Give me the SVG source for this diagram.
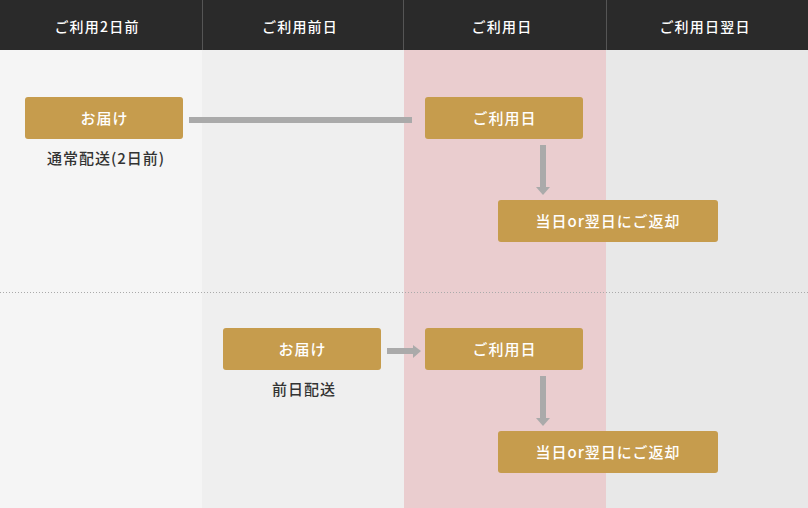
<svg xmlns="http://www.w3.org/2000/svg" width="808" height="508" viewBox="0 0 808 508">
<style>
.hd{font-family:"Noto Sans CJK JP","Noto Sans",sans-serif;font-size:14px;font-weight:500;fill:#ffffff;text-anchor:middle;letter-spacing:1.2px}
.bx{fill:#c69c4d}
.bt{font-family:"Noto Sans CJK JP","Noto Sans",sans-serif;font-size:15px;font-weight:500;fill:#ffffff;text-anchor:middle;letter-spacing:1px}
.lb{font-family:"Noto Sans CJK JP","Noto Sans",sans-serif;font-size:15px;font-weight:500;fill:#333333;text-anchor:middle;letter-spacing:1px}
.ln{stroke:#aaaaaa;stroke-width:6;fill:none}
.ah{fill:#aaaaaa}
</style>
<rect x="0" y="0" width="808" height="508" fill="#f5f5f5"/>
<rect x="202" y="50" width="202" height="458" fill="#efefef"/>
<rect x="404" y="50" width="202" height="458" fill="#eacdcf"/>
<rect x="606" y="50" width="202" height="458" fill="#e8e8e8"/>
<rect x="0" y="0" width="808" height="50" fill="#2a2a2a"/>
<g stroke="#555555" stroke-width="1">
<line x1="202.5" y1="0" x2="202.5" y2="50"/>
<line x1="403.5" y1="0" x2="403.5" y2="50"/>
<line x1="606.5" y1="0" x2="606.5" y2="50"/>
</g>
<text class="hd" x="97" y="32">ご利用2日前</text>
<text class="hd" x="300" y="32">ご利用前日</text>
<text class="hd" x="502" y="32">ご利用日</text>
<text class="hd" x="705" y="32">ご利用日翌日</text>
<line x1="0" y1="292.5" x2="808" y2="292.5" stroke="#aaaaaa" stroke-width="1" stroke-dasharray="1,2"/>
<g id="connectors">
<line class="ln" x1="189" y1="120" x2="412" y2="120"/>
<line class="ln" x1="543" y1="145" x2="543" y2="188"/>
<polygon class="ah" points="536,187 550,187 543,195"/>
<line class="ln" x1="387" y1="351" x2="414" y2="351"/>
<polygon class="ah" points="413,345 413,358 421,351"/>
<line class="ln" x1="543" y1="376" x2="543" y2="419"/>
<polygon class="ah" points="536,418 550,418 543,426"/>
</g>
<g id="n1">
<rect class="bx" x="25" y="97" width="158" height="42" rx="3"/>
<text class="bt" x="104.5" y="124">お届け</text>
<text class="lb" x="106" y="164">通常配送(2日前)</text>
</g>
<g id="n2">
<rect class="bx" x="425" y="97" width="158" height="42" rx="3"/>
<text class="bt" x="504.5" y="124">ご利用日</text>
</g>
<g id="n3">
<rect class="bx" x="498" y="200" width="220" height="42" rx="3"/>
<text class="bt" x="608" y="227">当日or翌日にご返却</text>
</g>
<g id="n4">
<rect class="bx" x="223" y="328" width="158" height="42" rx="3"/>
<text class="bt" x="302.5" y="355">お届け</text>
<text class="lb" x="304" y="395">前日配送</text>
</g>
<g id="n5">
<rect class="bx" x="425" y="328" width="158" height="42" rx="3"/>
<text class="bt" x="504.5" y="355">ご利用日</text>
</g>
<g id="n6">
<rect class="bx" x="498" y="431" width="220" height="42" rx="3"/>
<text class="bt" x="608" y="458">当日or翌日にご返却</text>
</g>
</svg>
